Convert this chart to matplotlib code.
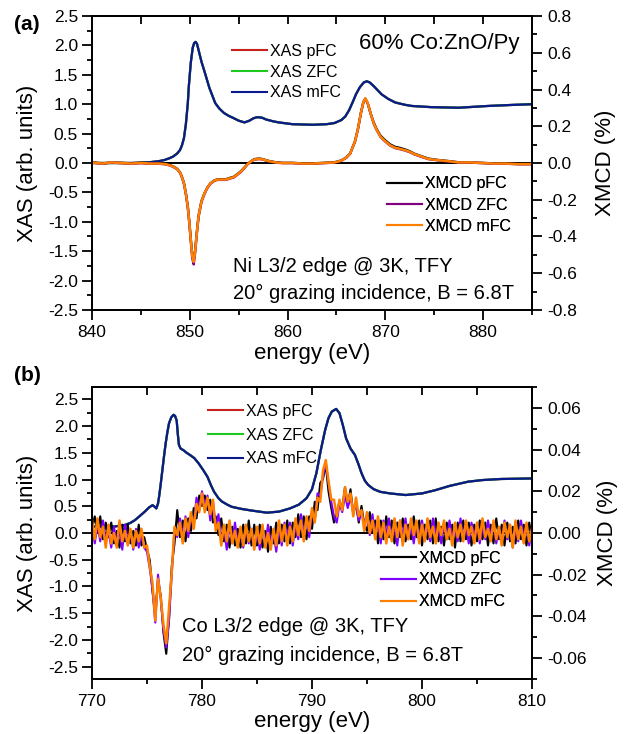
import numpy as np
import matplotlib
matplotlib.use("Agg")
import matplotlib.pyplot as plt
from matplotlib.ticker import MultipleLocator, FormatStrFormatter

plt.rcParams['font.family'] = ['Liberation Sans', 'DejaVu Sans']
plt.rcParams['axes.unicode_minus'] = False

# ---------------- Panel (a): Ni L3/2 edge ----------------
e_ni_xas = [840, 842, 844, 845, 846, 846.8, 847.4, 847.9, 848.3, 848.7, 849.0, 849.2,
            849.4, 849.6, 849.8, 849.9, 850.1, 850.3, 850.45, 850.6, 850.75, 850.9,
            851.2, 851.5, 852.0, 852.6, 853.0, 853.5, 854.0, 854.4, 855.0, 855.6,
            856.1, 856.5, 856.9, 857.4, 857.8, 858.5, 859.1, 860.5, 862.6, 864.0,
            864.8, 865.5, 865.9, 866.3, 866.7, 867.0, 867.4, 867.8, 868.1, 868.4,
            868.8, 869.2, 869.6, 870.3, 871.0, 872.0, 872.7, 874.7, 877.5, 880.5,
            883.3, 885.0]
xas_ni = [0.0, 0.0, 0.0, 0.005, 0.015, 0.03, 0.05, 0.08, 0.11, 0.16, 0.22, 0.3,
          0.42, 0.66, 1.02, 1.3, 1.7, 1.96, 2.04, 2.06, 2.02, 1.92,
          1.72, 1.56, 1.28, 1.02, 0.93, 0.85, 0.8, 0.77, 0.72, 0.69,
          0.72, 0.76, 0.78, 0.77, 0.74, 0.71, 0.69, 0.66, 0.65, 0.66,
          0.68, 0.73, 0.79, 0.9, 1.05, 1.17, 1.29, 1.37, 1.39, 1.37,
          1.31, 1.24, 1.17, 1.09, 1.03, 0.99, 0.97, 0.95, 0.94, 0.97,
          0.99, 1.0]

e_ni_xmcd = [840, 841, 842, 843, 844, 845, 846, 846.8, 847.5, 848.0, 848.4, 848.7,
             849.0, 849.2, 849.4, 849.6, 849.8, 849.95, 850.1, 850.25, 850.4, 850.55,
             850.7, 850.9, 851.2, 851.5, 851.8, 852.1, 852.5, 852.8, 853.2, 853.7,
             854.1, 854.5, 854.9, 855.2, 855.6, 855.9, 856.3, 856.6, 857.0, 857.3,
             857.7, 858.1, 858.8, 859.5, 860.5, 861.5, 862.6, 863.7, 864.8, 865.5,
             866.0, 866.4, 866.9, 867.2, 867.5, 867.75, 867.95, 868.2, 868.5, 868.8,
             869.1, 869.5, 870.0, 870.5, 871.0, 871.5, 872.0, 872.5, 873.0, 873.7,
             874.4, 875.3, 876.4, 877.5, 878.7, 879.9, 881.0, 882.3, 883.6, 885.0]
xmcd_ni_mfc = [0.003, -0.003, 0.003, 0.0, -0.003, 0.0, -0.003, -0.003, -0.006, -0.013, -0.022, -0.032,
               -0.051, -0.077, -0.109, -0.166, -0.240, -0.320, -0.416, -0.506, -0.538, -0.480,
               -0.390, -0.288, -0.208, -0.166, -0.134, -0.112, -0.096, -0.090, -0.090, -0.090,
               -0.083, -0.077, -0.061, -0.048, -0.026, -0.006, 0.010, 0.019, 0.022, 0.022,
               0.016, 0.010, 0.003, 0.0, 0.0, -0.003, -0.003, 0.0, 0.003, 0.013,
               0.029, 0.051, 0.118, 0.186, 0.272, 0.330, 0.352, 0.326, 0.269, 0.218,
               0.182, 0.144, 0.118, 0.096, 0.083, 0.077, 0.070, 0.061, 0.048, 0.035,
               0.022, 0.016, 0.010, 0.003, 0.003, 0.0, -0.003, -0.003, -0.006, -0.006]
xmcd_ni_pfc = [0.004, -0.002, 0.002, 0.001, -0.002, 0.001, -0.002, -0.002, -0.005, -0.012, -0.021, -0.031,
               -0.050, -0.075, -0.107, -0.163, -0.236, -0.316, -0.410, -0.498, -0.530, -0.474,
               -0.386, -0.285, -0.206, -0.165, -0.133, -0.111, -0.095, -0.089, -0.088, -0.088,
               -0.081, -0.075, -0.059, -0.046, -0.024, -0.005, 0.011, 0.021, 0.024, 0.023,
               0.017, 0.011, 0.004, 0.001, 0.001, -0.002, -0.002, 0.001, 0.004, 0.014,
               0.030, 0.052, 0.119, 0.187, 0.273, 0.331, 0.350, 0.325, 0.270, 0.222,
               0.186, 0.149, 0.123, 0.101, 0.088, 0.082, 0.074, 0.064, 0.050, 0.037,
               0.024, 0.017, 0.011, 0.004, 0.003, 0.001, -0.002, -0.002, -0.005, -0.005]
xmcd_ni_zfc = [0.002, -0.004, 0.002, -0.001, -0.004, -0.001, -0.004, -0.004, -0.007, -0.014, -0.024, -0.034,
               -0.053, -0.080, -0.113, -0.171, -0.246, -0.328, -0.425, -0.518, -0.552, -0.490,
               -0.398, -0.294, -0.212, -0.169, -0.136, -0.114, -0.098, -0.092, -0.092, -0.092,
               -0.085, -0.079, -0.063, -0.050, -0.028, -0.008, 0.009, 0.018, 0.021, 0.021,
               0.015, 0.009, 0.002, -0.001, -0.001, -0.004, -0.004, -0.001, 0.002, 0.012,
               0.028, 0.050, 0.116, 0.184, 0.270, 0.328, 0.350, 0.324, 0.267, 0.216,
               0.180, 0.142, 0.116, 0.094, 0.081, 0.075, 0.068, 0.059, 0.046, 0.033,
               0.021, 0.015, 0.009, 0.002, 0.002, -0.001, -0.004, -0.004, -0.007, -0.007]

# ---------------- Panel (b): Co L3/2 edge ----------------
e_co_xas = [770.0, 771.0, 772.0, 773.0, 773.5, 773.9, 774.3, 774.8, 775.2, 775.5, 775.7, 775.85,
            776.0, 776.1, 776.25, 776.4, 776.55, 776.7, 776.85, 777.0, 777.2, 777.4, 777.55,
            777.7, 777.8, 777.9, 778.05, 778.3, 778.6, 778.9, 779.3, 779.7, 780.1, 780.5,
            780.8, 781.1, 781.5, 781.8, 782.3, 782.7, 783.6, 784.5, 785.9, 787.0, 788.0,
            788.8, 789.5, 790.0, 790.4, 790.8, 791.2, 791.5, 791.8, 792.2, 792.5, 792.8,
            793.1, 793.5, 793.9, 794.2, 794.5, 794.8, 795.1, 795.6, 796.2, 797.1, 798.5,
            800.0, 801.2, 802.5, 804.2, 805.5, 807.2, 810.0]
xas_co = [0.12, 0.12, 0.12, 0.15, 0.19, 0.24, 0.31, 0.40, 0.48, 0.52, 0.49, 0.46,
          0.55, 0.68, 0.92, 1.18, 1.44, 1.68, 1.88, 2.05, 2.16, 2.21, 2.19,
          2.10, 1.85, 1.65, 1.58, 1.55, 1.50, 1.46, 1.40, 1.30, 1.18, 1.05,
          0.90, 0.77, 0.65, 0.59, 0.53, 0.49, 0.45, 0.42, 0.38, 0.40, 0.46,
          0.53, 0.65, 0.82, 1.12, 1.55, 1.93, 2.15, 2.27, 2.32, 2.24, 2.02,
          1.77, 1.58, 1.46, 1.30, 1.12, 0.98, 0.90, 0.82, 0.77, 0.74, 0.71,
          0.74, 0.80, 0.88, 0.96, 0.99, 1.01, 1.02]

e_co_xmcd = np.linspace(770, 810, 161)
xmcd_co_mfc = [0.006, -0.003, 0.007, -0.002, 0.003, -0.007, 0.004, -0.005, 0.000, -0.007,
               0.006, -0.004, 0.001, -0.006, 0.002, -0.007, 0.001, -0.004, 0.002, -0.007,
               -0.006, -0.016, -0.024, -0.042, -0.022, -0.031, -0.044, -0.053, -0.036, -0.019,
               0.003, -0.001, 0.005, -0.005, 0.007, 0.001, 0.010, 0.002, 0.014, 0.010,
               0.019, 0.010, 0.017, 0.009, 0.016, 0.001, 0.005, -0.006, 0.004, -0.004,
               0.006, -0.005, 0.001, -0.007, 0.003, -0.006, 0.004, -0.004, 0.002, -0.008,
               0.003, -0.005, 0.004, -0.007, 0.000, -0.008, 0.002, -0.006, 0.006, -0.004,
               0.004, -0.006, 0.003, -0.004, 0.007, -0.001, 0.006, -0.004, 0.008, 0.001,
               0.012, 0.005, 0.017, 0.015, 0.030, 0.035, 0.025, 0.016, 0.016, 0.008,
               0.016, 0.011, 0.022, 0.015, 0.019, 0.008, 0.017, 0.008, 0.011, 0.001,
               0.010, 0.000, 0.006, -0.003, 0.008, -0.002, 0.005, -0.005, 0.003, -0.004,
               0.007, -0.002, 0.006, -0.006, 0.004, -0.003, 0.007, -0.001, 0.006, -0.005,
               0.004, -0.004, 0.007, -0.002, 0.003, -0.005, 0.005, -0.001, 0.006, -0.003,
               0.002, -0.006, 0.005, -0.002, 0.004, -0.004, 0.006, -0.001, 0.003, -0.005,
               0.005, -0.003, 0.007, -0.002, 0.002, -0.004, 0.006, -0.003, 0.003, -0.006,
               0.005, -0.002, 0.004, -0.007, 0.006, -0.003, 0.003, -0.005, 0.005, -0.004,
               0.002]
xmcd_co_pfc = [0.002, 0.008, 0.000, 0.008, -0.003, 0.005, -0.002, 0.005, -0.005, 0.001,
               -0.007, 0.004, -0.004, 0.004, -0.005, 0.001, -0.006, 0.004, -0.006, -0.002,
               -0.008, -0.013, -0.028, -0.039, -0.023, -0.030, -0.048, -0.058, -0.041, -0.016,
               -0.005, 0.011, -0.002, 0.006, -0.004, 0.007, 0.001, 0.012, 0.007, 0.018,
               0.013, 0.018, 0.011, 0.016, 0.005, 0.008, -0.001, 0.007, -0.004, 0.004,
               -0.007, 0.003, -0.006, 0.002, -0.007, 0.004, -0.005, 0.006, -0.006, 0.004,
               -0.006, 0.004, -0.007, 0.001, -0.009, 0.003, -0.005, 0.005, -0.005, 0.004,
               -0.004, 0.006, -0.005, 0.005, -0.002, 0.009, -0.002, 0.008, -0.003, 0.008,
               0.002, 0.015, 0.011, 0.024, 0.026, 0.033, 0.020, 0.012, 0.005, 0.010,
               0.015, 0.012, 0.022, 0.013, 0.021, 0.009, 0.015, 0.005, 0.013, 0.004,
               0.001, 0.010, 0.000, 0.006, -0.005, 0.006, -0.003, 0.008, -0.002, 0.006,
               -0.005, 0.005, -0.002, 0.007, -0.004, 0.004, -0.003, 0.008, -0.002, 0.006,
               -0.006, 0.004, -0.003, 0.006, -0.005, 0.007, -0.004, 0.003, -0.006, 0.005,
               -0.003, 0.004, -0.007, 0.005, -0.004, 0.006, -0.003, 0.005, -0.006, 0.004,
               -0.004, 0.006, -0.003, 0.005, -0.006, 0.004, -0.005, 0.007, -0.003, 0.004,
               -0.006, 0.005, -0.004, 0.003, -0.005, 0.006, -0.003, 0.004, -0.006, 0.005,
               -0.003]
xmcd_co_zfc = [0.004, -0.005, 0.004, -0.004, 0.006, -0.004, 0.001, -0.007, 0.003, -0.006,
               0.002, -0.008, 0.004, -0.004, 0.001, -0.008, 0.002, -0.007, -0.001, -0.007,
               -0.009, -0.017, -0.027, -0.043, -0.020, -0.032, -0.047, -0.055, -0.042, -0.020,
               0.002, -0.002, 0.007, -0.002, 0.008, -0.002, 0.008, 0.004, 0.017, 0.011,
               0.020, 0.013, 0.018, 0.006, 0.015, 0.003, 0.009, -0.004, 0.002, -0.008,
               0.004, -0.004, 0.005, -0.005, 0.001, -0.007, 0.003, -0.005, 0.002, -0.007,
               0.001, -0.008, 0.003, -0.006, 0.004, -0.005, 0.000, -0.009, 0.003, -0.006,
               0.005, -0.002, 0.005, -0.006, 0.004, -0.003, 0.009, -0.001, 0.007, -0.002,
               0.010, 0.006, 0.019, 0.018, 0.027, 0.034, 0.024, 0.015, 0.008, 0.005,
               0.014, 0.010, 0.018, 0.012, 0.017, 0.011, 0.013, 0.006, 0.010, 0.004,
               0.009, -0.001, 0.009, -0.001, 0.005, -0.005, 0.006, -0.001, 0.007, -0.003,
               0.004, -0.006, 0.006, -0.002, 0.007, -0.003, 0.003, -0.005, 0.005, -0.004,
               0.006, -0.002, 0.004, -0.004, 0.007, -0.001, 0.003, -0.005, 0.005, -0.003,
               0.006, -0.002, 0.002, -0.004, 0.007, -0.003, 0.003, -0.005, 0.005, -0.001,
               0.004, -0.005, 0.003, -0.003, 0.006, -0.002, 0.005, -0.005, 0.002, -0.005,
               0.006, -0.003, 0.004, -0.007, 0.003, -0.004, 0.006, -0.002, 0.004, -0.006,
               0.003]

xas_labels = ['XAS pFC', 'XAS ZFC', 'XAS mFC']
xmcd_labels = ['XMCD pFC', 'XMCD ZFC', 'XMCD mFC']

C_RED, C_GREEN, C_BLUE = '#C8201A', '#1EC81E', '#0A1A8C'
C_BLACK, C_ORANGE = '#000000', '#FF8000'

W, H = 628, 734


def fx(px):
    return px / W


def fy(py):
    return 1 - py / H


fig = plt.figure(figsize=(W / 100, H / 100), dpi=100)
ax_a = fig.add_axes([fx(92), fy(310), 440 / W, 294 / H])
ax_b = fig.add_axes([fx(92), fy(679), 440 / W, 292 / H])
axr_a = ax_a.twinx()
axr_b = ax_b.twinx()

TICK_FS = 12.5
LAB_FS = 16
LEG_FS = 11.5


def style(ax, axr, xlim, ylim, yrlim, yrmaj, yrmin, yrfmt):
    ax.set_xlim(xlim)
    ax.set_ylim(ylim)
    axr.set_ylim(yrlim)
    ax.xaxis.set_major_locator(MultipleLocator(10))
    ax.xaxis.set_minor_locator(MultipleLocator(5))
    ax.yaxis.set_major_locator(MultipleLocator(0.5))
    ax.yaxis.set_minor_locator(MultipleLocator(0.25))
    ax.yaxis.set_major_formatter(FormatStrFormatter('%.1f'))
    axr.yaxis.set_major_locator(MultipleLocator(yrmaj))
    axr.yaxis.set_minor_locator(MultipleLocator(yrmin))
    axr.yaxis.set_major_formatter(FormatStrFormatter(yrfmt))
    ax.tick_params(axis='both', which='major', direction='out', length=7, width=1.3,
                   labelsize=TICK_FS, top=False)
    ax.tick_params(axis='both', which='minor', direction='out', length=3.5, width=1.3, top=False)
    ax.tick_params(axis='x', which='major', pad=4)
    ax.tick_params(axis='y', which='major', pad=3)
    axr.tick_params(axis='y', which='major', direction='out', length=7, width=1.3,
                    labelsize=TICK_FS, pad=4)
    axr.tick_params(axis='y', which='minor', direction='out', length=3.5, width=1.3)
    top = ax.secondary_xaxis('top')
    top.xaxis.set_major_locator(MultipleLocator(10))
    top.xaxis.set_minor_locator(MultipleLocator(5))
    top.tick_params(which='both', direction='in', length=6, width=1.3, labeltop=False)
    for a in (ax, axr, top):
        for sp in a.spines.values():
            sp.set_linewidth(1.3)
    axr.set_ylabel('XMCD (%)', fontsize=LAB_FS)
    ax.set_ylabel('XAS (arb. units)', fontsize=LAB_FS)
    ax.set_xlabel('energy (eV)', fontsize=LAB_FS)


style(ax_a, axr_a, (840, 885), (-2.5, 2.5), (-0.8, 0.8), 0.2, 0.1, '%.1f')
style(ax_b, axr_b, (770, 810), (-2.73, 2.73), (-0.0701, 0.0701), 0.02, 0.01, '%.2f')

# label positions (axes coords)
ax_a.xaxis.set_label_coords(0.5, (310 - 353) / 294)
ax_b.xaxis.set_label_coords(0.5, (679 - 722) / 292)
ax_a.yaxis.set_label_coords((28 - 92) / 440, 0.5)
ax_b.yaxis.set_label_coords((28 - 92) / 440, 0.5)
axr_a.yaxis.set_label_coords((606 - 92) / 440, 0.5)
axr_b.yaxis.set_label_coords((607 - 92) / 440, 0.5)
for lab in (ax_a.xaxis.label, ax_b.xaxis.label, ax_a.yaxis.label, ax_b.yaxis.label,
            axr_a.yaxis.label, axr_b.yaxis.label):
    lab.set_verticalalignment('center')

# ---- panel a data ----
ax_a.axhline(0, color='black', lw=1.4, zorder=1)
la = [ax_a.plot(e_ni_xas, xas_ni, color=c, lw=1.6, label=l, zorder=2)[0]
      for c, l in zip((C_RED, C_GREEN, C_BLUE), xas_labels)]
lma = [axr_a.plot(e_ni_xmcd, s, color=c, lw=w, label=l)[0]
       for s, c, w, l in zip((xmcd_ni_pfc, xmcd_ni_zfc, xmcd_ni_mfc),
                             (C_BLACK, '#800080', C_ORANGE), (1.7, 1.7, 1.8), xmcd_labels)]

# ---- panel b data ----
ax_b.axhline(0, color='black', lw=1.4, zorder=1)
lb = [ax_b.plot(e_co_xas, xas_co, color=c, lw=1.6, label=l, zorder=2)[0]
      for c, l in zip((C_RED, C_GREEN, C_BLUE), xas_labels)]
lmb = [axr_b.plot(e_co_xmcd, s, color=c, lw=w, label=l)[0]
       for s, c, w, l in zip((xmcd_co_pfc, xmcd_co_zfc, xmcd_co_mfc),
                             (C_BLACK, '#8000FF', C_ORANGE), (1.5, 1.5, 1.8), xmcd_labels)]


def add_legend(axr, handles, x, y, spacing):
    leg = axr.legend(handles=handles, loc='center left', bbox_to_anchor=(fx(x), fy(y)),
                     bbox_transform=fig.transFigure, frameon=False, fontsize=LEG_FS,
                     handlelength=2.2, handletextpad=0.2, labelspacing=spacing,
                     borderpad=0, borderaxespad=0)
    for h in leg.legend_handles:
        h.set_linewidth(1.5)
    axr.add_artist(leg)
    return leg


add_legend(axr_a, la, 232, 72, 0.35)
add_legend(axr_a, lma, 387, 205, 0.4)
add_legend(axr_b, lb, 208, 435, 0.56)
add_legend(axr_b, lmb, 381, 580, 0.42)

# ---- annotations ----
fig.text(fx(359), fy(43), '60% Co:ZnO/Py', fontsize=16, ha='left', va='center')
fig.text(fx(233), fy(267), 'Ni L3/2 edge @ 3K, TFY', fontsize=14.5, ha='left', va='center')
fig.text(fx(233), fy(293), '20° grazing incidence, B = 6.8T', fontsize=14.5, ha='left', va='center')
fig.text(fx(182), fy(627), 'Co L3/2 edge @ 3K, TFY', fontsize=14.5, ha='left', va='center')
fig.text(fx(182), fy(655), '20° grazing incidence, B = 6.8T', fontsize=14.5, ha='left', va='center')
fig.text(fx(14), fy(25), '(a)', fontsize=15, fontweight='bold', ha='left', va='center')
fig.text(fx(14), fy(375), '(b)', fontsize=15, fontweight='bold', ha='left', va='center')

fig.savefig('out.png', dpi=100)
